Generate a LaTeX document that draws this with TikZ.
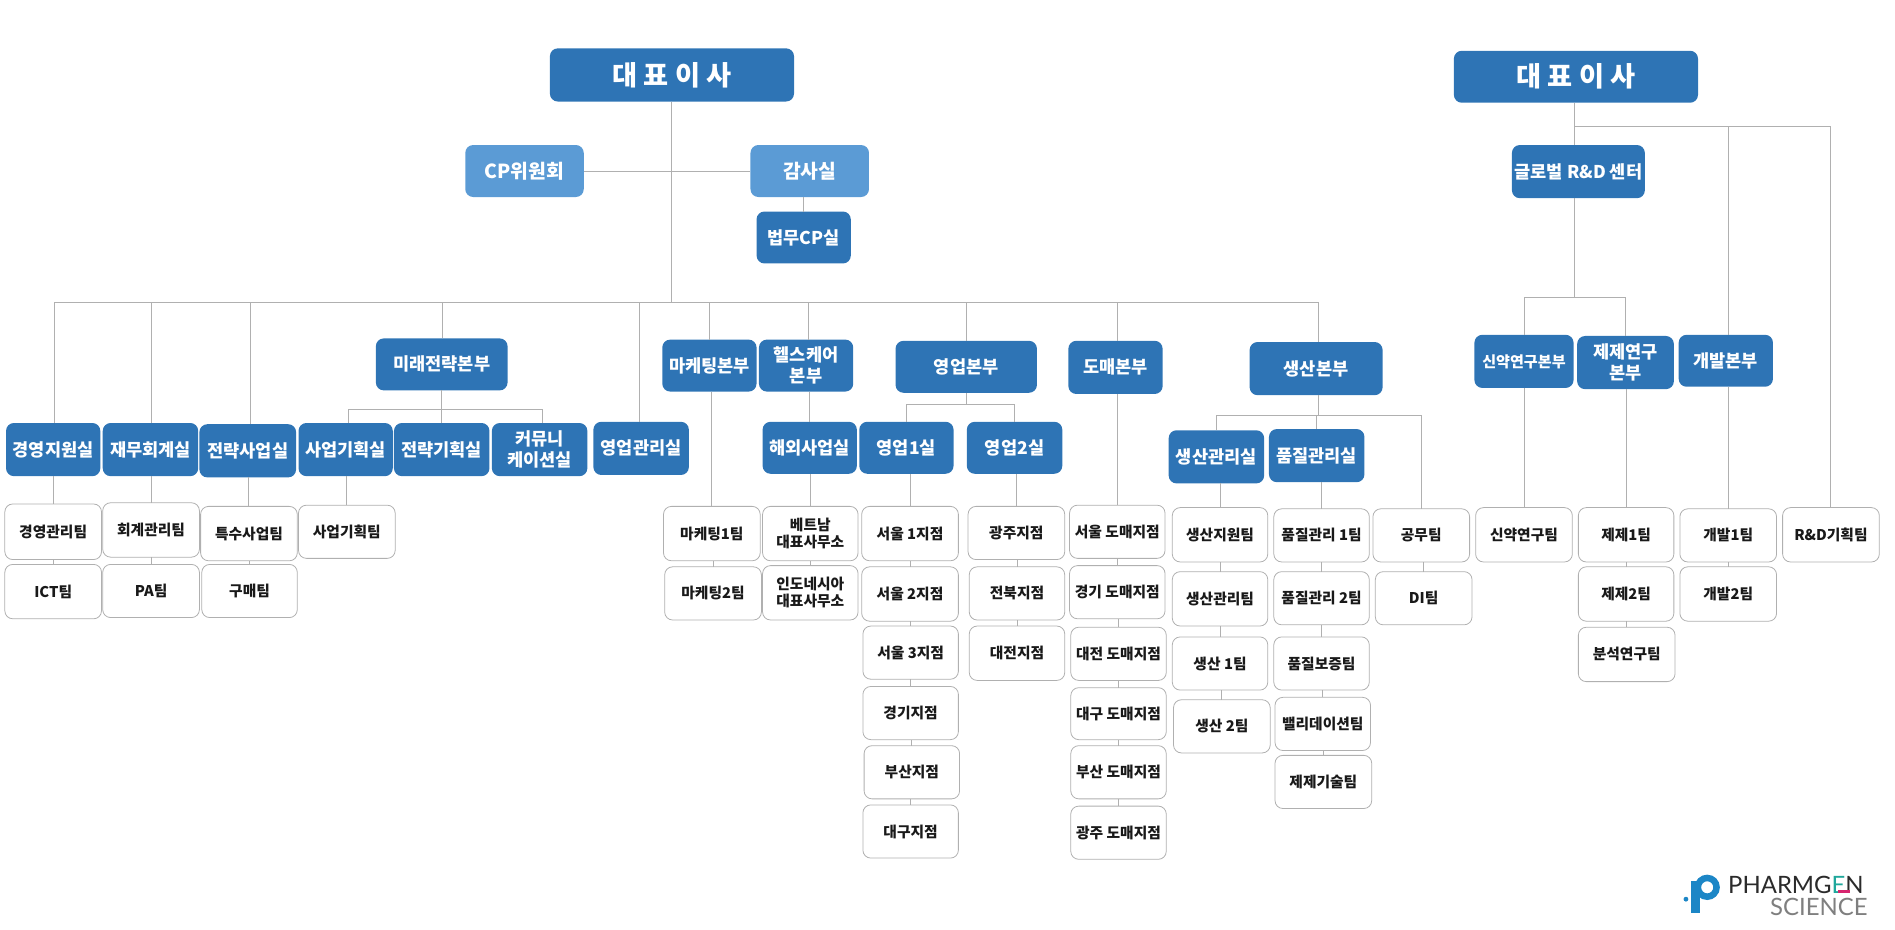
\documentclass[tikz,border=0pt]{standalone}
\usepackage{fontspec}
\setmainfont{Noto Sans CJK KR}
\newfontfamily\logofont{Lato}
\usetikzlibrary{positioning}

\definecolor{deepblue}{HTML}{2E74B5}
\definecolor{softblue}{HTML}{5B9BD5}
\definecolor{linegray}{HTML}{B0B0B0}
\definecolor{logoblue}{HTML}{1C86C6}
\definecolor{logoink}{HTML}{2B2B2B}
\definecolor{logogray}{HTML}{7F7F7F}
\definecolor{logoteal}{HTML}{1FA79B}
\definecolor{logopink}{HTML}{D6246E}

\tikzset{
	unitbox/.style={rounded corners=4.5pt, inner sep=0pt, outer sep=0pt, align=center, font=\fontsize{10}{11.6}\selectfont\bfseries},
	deepbox/.style={unitbox, fill=deepblue, text=white},
	softbox/.style={unitbox, fill=softblue, text=white},
	teambox/.style={unitbox, draw=linegray, line width=0.45pt, fill=white, text=black!90, font=\fontsize{8.4}{9.6}\selectfont\bfseries},
	link/.style={draw=linegray, line width=0.55pt},
}

\begin{document}
\begin{tikzpicture}[x=0.02417cm, y=-0.02417cm]
	\useasboundingbox (0,0) rectangle (1568,769.5);

	% blue boxes: name/left/top/right/bottom/text
	\foreach \nm/\xa/\ya/\xb/\yb/\txt in {
		ceoA/455/40/657/84/{\fontsize{15.5}{17}\selectfont 대 표 이 사},
		ceoB/1203/42/1405/85/{\fontsize{15.5}{17}\selectfont 대 표 이 사},
		legal/626/175/704/218/법무CP실,
		mirae/311/280/420/323/미래전략본부,
		marketing/548/281/626/324/마케팅본부,
		health/628/281/706/324/헬스케어\\본부,
		sales/741/282/858/325/영업본부,
		whole/884/282/962/326/도매본부,
		prod/1034/283/1144/327/생산본부,
		support/5/350/83/394/경영지원실,
		finance/85/350/164/394/재무회계실,
		stratbiz/165/351/245/395/전략사업실,
		bizplan/247/350/325/394/사업기획실,
		stratplan/326/350/405/394/전략기획실,
		comm/407/350/486/394/커뮤니\\케이션실,
		salesadm/491/349/570/393/영업관리실,
		overseas/631/349/709/392/해외사업실,
		salesA/711/349/789/392/영업1실,
		salesB/800/349/879/392/영업2실,
		prodmgmt/967/356/1046/400/생산관리실,
		quality/1050/355/1129/399/품질관리실,
		global/1251/120/1361/164/글로벌 R\&D 센터,
		newdrug/1220/277/1302/321/{\fontsize{8.6}{10}\selectfont 신약연구본부},
		formul/1305/278/1385/322/제제연구\\본부,
		devel/1389/277/1467/320/개발본부%
	} {
		\node[deepbox, minimum width={(\xb-\xa)*0.02417cm}, minimum height={(\yb-\ya)*0.02417cm}] (\nm) at ({(\xa+\xb)/2},{(\ya+\yb)/2}) {\txt};
	}
	\node[softbox, minimum width=2.37cm, minimum height=1.04cm] (cpcom) at (434,141.5) {\fontsize{11}{13}\selectfont CP위원회};
	\node[softbox, minimum width=2.37cm, minimum height=1.04cm] (audit) at (670,141.5) {\fontsize{11}{13}\selectfont 감사실};

	% white boxes
	\foreach \nm/\xa/\ya/\xb/\yb/\txt in {
		tmgmt/4/417/84/463/경영관리팀,
		tict/4/467/84/512/ICT팀,
		tacct/85/416/165/461/회계관리팀,
		tpa/85/467/165/511/PA팀,
		tspecial/166/419/246/464/특수사업팀,
		tbuy/167/467/246/511/구매팀,
		tplan/247/418/327/462/사업기획팀,
		tmarkA/549/419/629/464/마케팅1팀,
		tmarkB/550/469/630/513/마케팅2팀,
		tviet/631/419/710/464/베트남\\대표사무소,
		tindo/631/468/710/513/인도네시아\\대표사무소,
		seoulA/713/419/793/464/서울 1지점,
		seoulB/713/469/793/514/서울 2지점,
		seoulC/714/518/793/562/서울 3지점,
		gyeonggi/714/568/793/612/경기지점,
		busan/715/617/794/661/부산지점,
		daegu/714/666/793/710/대구지점,
		gwangju/801/419/881/463/광주지점,
		jeonbuk/802/469/881/513/전북지점,
		daejeon/802/518/881/563/대전지점,
		wseoul/885/418/964/462/서울 도매지점,
		wgyeonggi/885/468/964/512/경기 도매지점,
		wdaejeon/886/519/965/563/대전 도매지점,
		wdaegu/886/569/965/612/대구 도매지점,
		wbusan/886/617/965/661/부산 도매지점,
		wgwangju/886/667/965/711/광주 도매지점,
		tprodsup/970/420/1049/465/생산지원팀,
		tprodmgmt/970/473/1049/518/생산관리팀,
		tprodA/970/527/1049/571/생산 1팀,
		tprodB/971/579/1051/623/생산 2팀,
		tqualA/1054/421/1133/465/품질관리 1팀,
		tqualB/1054/473/1133/517/품질관리 2팀,
		tassure/1054/527/1133/571/품질보증팀,
		tvalid/1055/577/1134/621/밸리데이션팀,
		ttech/1055/625/1135/669/제제기술팀,
		tworks/1136/421/1216/465/공무팀,
		tdi/1138/473/1218/517/DI팀,
		tnew/1221/420/1301/465/신약연구팀,
		tformA/1306/420/1385/465/제제1팀,
		tformB/1306/469/1385/514/제제2팀,
		tanal/1306/519/1386/564/분석연구팀,
		tdevA/1390/421/1470/465/개발1팀,
		tdevB/1390/469/1470/514/개발2팀,
		trnd/1475/420/1555/465/R\&D기획팀%
	} {
		\node[teambox, minimum width={(\xb-\xa)*0.02417cm}, minimum height={(\yb-\ya)*0.02417cm}] (\nm) at ({(\xa+\xb)/2},{(\ya+\yb)/2}) {\txt};
	}

	% buses
	\coordinate (busmain) at (556,250.5);
	\coordinate (busmirae) at (365.5,339);
	\coordinate (bussales) at (799.5,335);
	\coordinate (busprod) at (1091,344);
	\coordinate (busrnd) at (1303,105);
	\coordinate (busglobal) at (1303,246);
	\coordinate (auditjoin) at (ceoA.south |- cpcom.east);

	\draw[link] (ceoA.south) -- (busmain);
	\draw[link] (cpcom.east) -- (auditjoin) -- (auditjoin -| audit.west);
	\draw[link] (legal.north) -- (legal.north |- audit.south);
	\foreach \t/\dx in {support/1, finance/0.5, stratbiz/2, mirae/0.5, salesadm/-1, marketing/0, health/2, sales/0, whole/2, prod/2} {
		\draw[link] ([xshift=\dx*0.02417cm]\t.north) |- (busmain);
	}
	\draw[link] (mirae.south) -- (busmirae);
	\foreach \t/\dx in {bizplan/2, stratplan/0, comm/2} {
		\draw[link] ([xshift=\dx*0.02417cm]\t.north) |- (busmirae);
	}
	\draw[link] (sales.south) -- (bussales);
	\foreach \t in {salesA, salesB} {
		\draw[link] (\t.north) |- (bussales);
	}
	\draw[link] (busprod |- prod.south) -- (busprod);
	\foreach \t in {prodmgmt, quality, tworks} {
		\draw[link] (\t.north) |- (busprod);
	}
	\draw[link] (busrnd |- ceoB.south) -- (busrnd);
	\draw[link] (busrnd) -- (busrnd |- global.north);
	\foreach \t/\dx in {devel/2, trnd/0} {
		\draw[link] ([xshift=\dx*0.02417cm]\t.north) |- (busrnd);
	}
	\draw[link] (busrnd |- global.south) -- (busglobal);
	\foreach \t in {newdrug, formul} {
		\draw[link] (\t.north) |- (busglobal);
	}

	% straight chains
	\foreach \a/\b in {
		health/overseas, overseas/tviet, tviet/tindo, support/tmgmt, tmgmt/tict, finance/tacct, tacct/tpa,
		stratbiz/tspecial, tspecial/tbuy, bizplan/tplan, marketing/tmarkA, tmarkA/tmarkB,
		salesA/seoulA, seoulA/seoulB, seoulB/seoulC, seoulC/gyeonggi, gyeonggi/busan, busan/daegu,
		salesB/gwangju, gwangju/jeonbuk, jeonbuk/daejeon,
		whole/wseoul, wseoul/wgyeonggi, wgyeonggi/wdaejeon, wdaejeon/wdaegu, wdaegu/wbusan, wbusan/wgwangju,
		prodmgmt/tprodsup, tprodsup/tprodmgmt, tprodmgmt/tprodA, tprodA/tprodB,
		quality/tqualA, tqualA/tqualB, tqualB/tassure, tassure/tvalid, tvalid/ttech,
		tworks/tdi, newdrug/tnew, formul/tformA, tformA/tformB, tformB/tanal, devel/tdevA, tdevA/tdevB%
	} {
		\draw[link] (\b.north) -- (\b.north |- \a.south);
	}

	% logo
	\fill[logoblue, even odd rule] (1412.6,734.2) circle (10.5) (1412.6,734.2) circle (5);
	\fill[logoblue] (1399.2,729) rectangle (1406.7,755.5);
	\fill[logoblue] (1395,744) circle (2);
	\node[inner sep=0pt, text=logoink, font=\logofont\fontsize{13.6}{14}\selectfont] (logoA) at (1486,732) {PHARMG{\color{logoteal}E}N};
	\fill[logopink] (1521,736.6) rectangle (1531,738.6);
	\node[inner sep=0pt, text=logogray, font=\logofont\fontsize{13.6}{14}\selectfont] (logoB) at (1505,750.5) {SCIENCE};
\end{tikzpicture}
\end{document}
